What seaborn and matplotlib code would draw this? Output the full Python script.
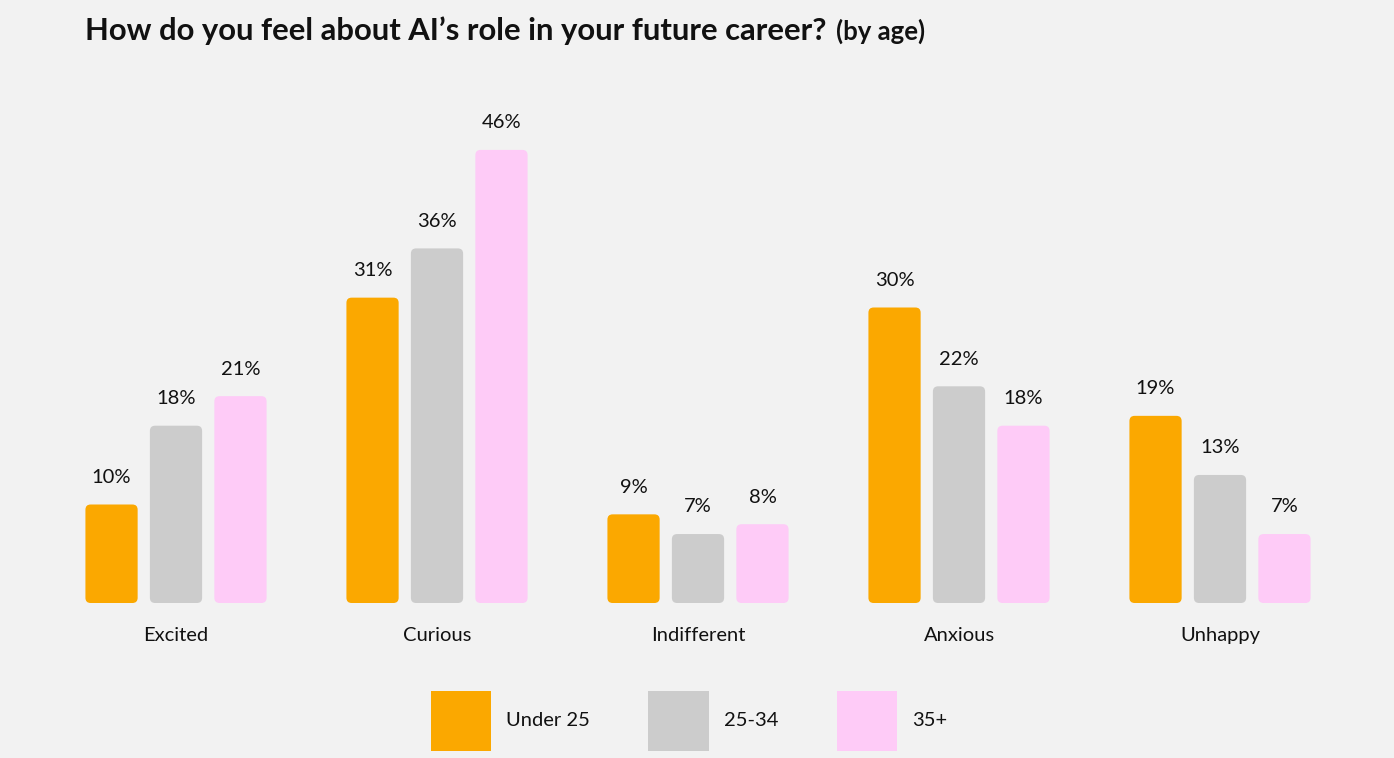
import matplotlib
matplotlib.use("Agg")
import matplotlib.pyplot as plt
from matplotlib.patches import FancyBboxPatch, Patch
import seaborn as sns
import pandas as pd

categories = ["Excited", "Curious", "Indifferent", "Anxious", "Unhappy"]
age_groups = ["Under 25", "25-34", "35+"]
under25 = [10, 31, 9, 30, 19]
age25_34 = [18, 36, 7, 22, 13]
age35plus = [21, 46, 8, 18, 7]
colors = ["#FBA800", "#CCCCCC", "#FECBF7"]
title_main = "How do you feel about AI\u2019s role in your future career?"
title_sub = "(by age)"

rows = []
for vals, g in zip([under25, age25_34, age35plus], age_groups):
    for c, v in zip(categories, vals):
        rows.append({"category": c, "age": g, "value": v})
df = pd.DataFrame(rows)

sns.set_theme(style="white")
plt.rcParams["font.family"] = ["Lato", "DejaVu Sans"]
BG = "#F2F2F2"

W, H = 1394, 758
fig = plt.figure(figsize=(W / 100, H / 100), dpi=100, facecolor=BG)
ax = fig.add_axes([45.5 / W, (H - 603) / H, 1305 / W, 492.5 / H])
ax.set_facecolor(BG)

sns.barplot(data=df, x="category", y="value", hue="age", order=categories,
            hue_order=age_groups, palette=colors, width=0.741, gap=0.19,
            legend=False, ax=ax, saturation=1)
ax.set_xlim(-0.5, 4.5)
ax.set_ylim(0, 50)

aspect = (1305 / 5) / (492.5 / 50)
rects = list(ax.patches)
for r in rects:
    x, y, w, h = r.get_x(), r.get_y(), r.get_width(), r.get_height()
    fc = r.get_facecolor()
    r.remove()
    p = FancyBboxPatch((x, y), w, h, boxstyle="round,pad=0,rounding_size=0.02",
                       mutation_aspect=aspect, facecolor=fc, edgecolor="none")
    ax.add_patch(p)
    ax.annotate(f"{h:.0f}%", (x + w / 2, h), xytext=(0, 19.5),
                textcoords="offset points", ha="center", va="center",
                fontsize=14.5, color="#111111")

for s in ax.spines.values():
    s.set_visible(False)
ax.set_yticks([])
ax.set_xlabel("")
ax.set_ylabel("")
ax.tick_params(axis="x", length=0, pad=17, labelsize=14.5, labelcolor="#111111")

tm = fig.text(85 / W, (H - 40) / H, title_main, fontsize=22.3, fontweight="bold",
              ha="left", va="baseline", color="#111111")
fig.canvas.draw()
ext = tm.get_window_extent()
fig.text((ext.x1 + 9) / W, (H - 40) / H, title_sub, fontsize=18.5, fontweight="bold",
         ha="left", va="baseline", color="#111111")

handles = [Patch(facecolor=c, edgecolor="none", label=g) for c, g in zip(colors, age_groups)]
fig.legend(handles=handles, loc="center", bbox_to_anchor=(689 / W, (H - 721) / H),
           ncol=3, frameon=False, fontsize=14.5, handlelength=3.0, handleheight=4.2,
           handletextpad=0.75, columnspacing=2.9, labelcolor="#111111")

fig.savefig("out.png", dpi=100, facecolor=BG)
